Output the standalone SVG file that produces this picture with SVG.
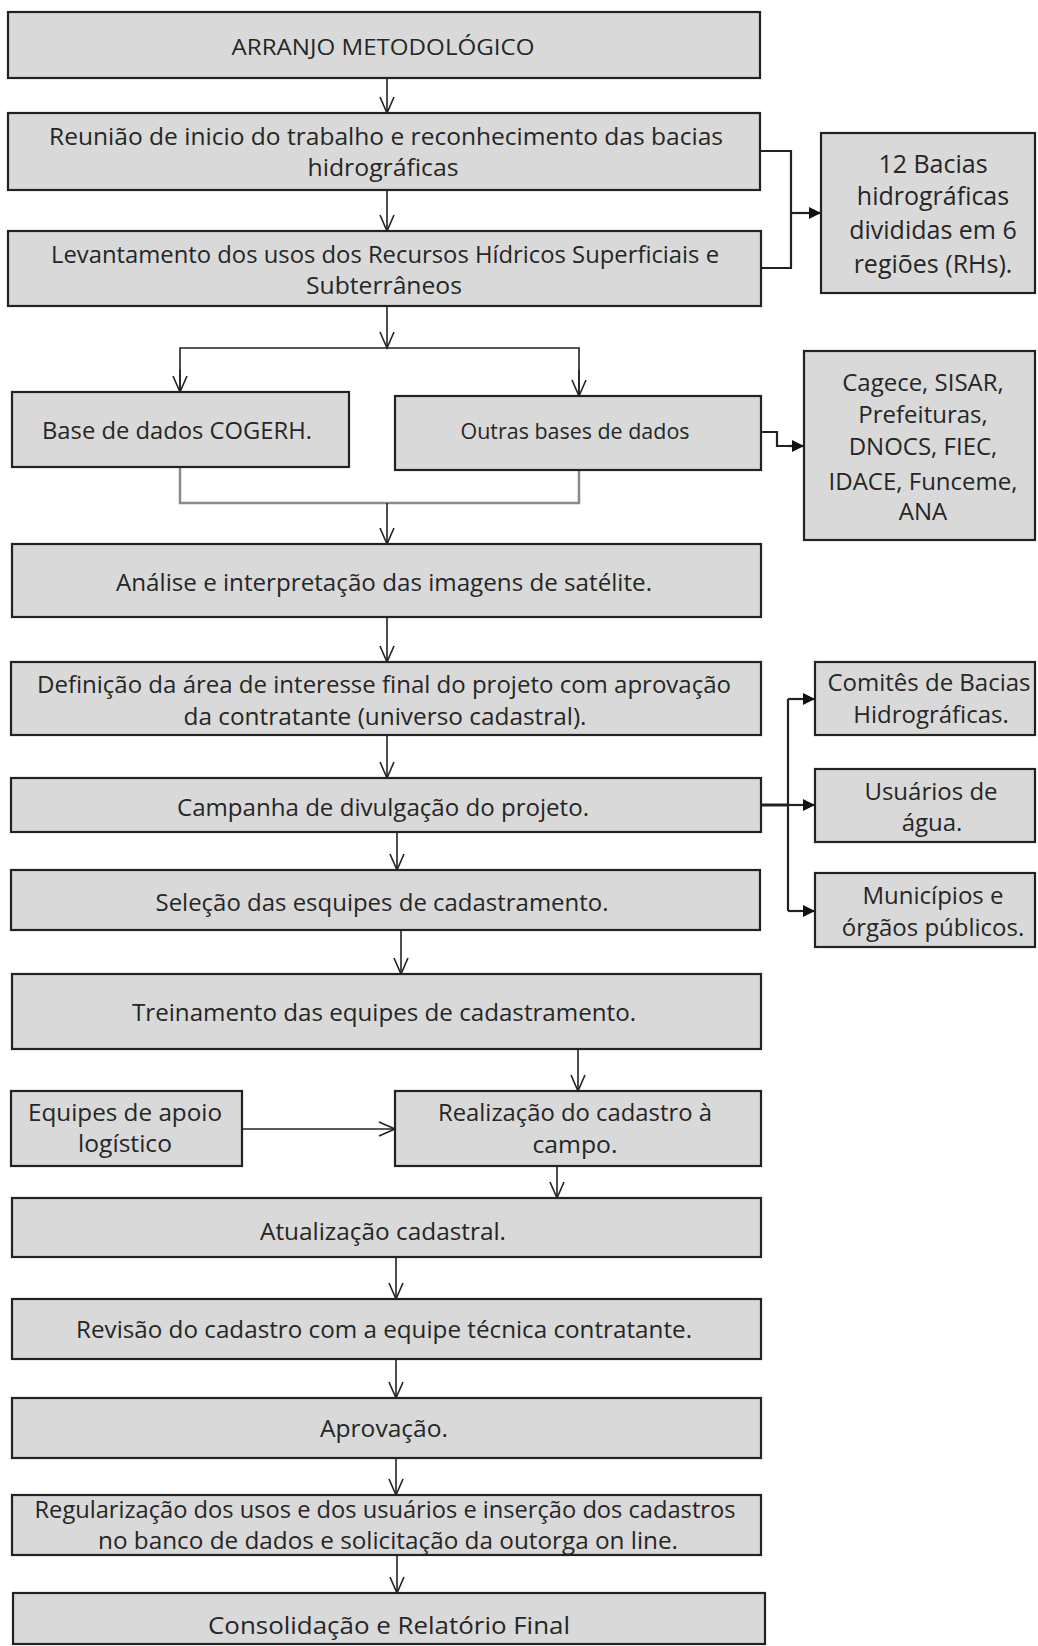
<svg xmlns="http://www.w3.org/2000/svg" width="1038" height="1646" viewBox="0 0 1038 1646">
<defs>
<marker id="open" markerUnits="userSpaceOnUse" viewBox="-18 -10 20 20" refX="0" refY="0" markerWidth="20" markerHeight="20" orient="auto">
<path d="M-16,-7 L0,0 L-16,7" fill="none" stroke="#222" stroke-width="1.6"/>
</marker>
<marker id="solid" markerUnits="userSpaceOnUse" viewBox="-14 -8 16 16" refX="0" refY="0" markerWidth="16" markerHeight="16" orient="auto">
<path d="M-12,-6 L0,0 L-12,6 Z" fill="#111"/>
</marker>
</defs>
<style>
.box{fill:#d9d9d9;stroke:#222;stroke-width:2.2}
.t{font-family:"Open Sans","Liberation Sans",sans-serif;font-size:24px;fill:#262626;text-anchor:middle}
.r{font-size:25px}
.c{fill:none;stroke:#222;stroke-width:1.6}
.k{fill:none;stroke:#222;stroke-width:2.2}
.g{fill:none;stroke:#8a8a8a;stroke-width:2.5}
</style>
<rect width="1038" height="1646" fill="#ffffff"/>

<g id="connectors">
<line class="c" x1="387" y1="78" x2="387" y2="113" marker-end="url(#open)"/>
<line class="c" x1="387" y1="190" x2="387" y2="231" marker-end="url(#open)"/>
<polyline class="k" points="760,151 791,151 791,268 762,268"/>
<line class="k" x1="791" y1="213" x2="821" y2="213" marker-end="url(#solid)"/>
<line class="c" x1="387" y1="306" x2="387" y2="348" marker-end="url(#open)"/>
<polyline class="c" points="180,392 180,348 579,348 579,396"/>
<line class="c" x1="180" y1="370" x2="180" y2="392" marker-end="url(#open)"/>
<line class="c" x1="579" y1="370" x2="579" y2="396" marker-end="url(#open)"/>
<polyline class="g" points="180,467 180,503 579,503 579,470"/>
<line class="c" x1="387" y1="503" x2="387" y2="544" marker-end="url(#open)"/>
<polyline class="k" points="761,432 777,432 777,446 790,446"/>
<line class="k" x1="788" y1="446" x2="804" y2="446" marker-end="url(#solid)"/>
<line class="c" x1="387" y1="617" x2="387" y2="662" marker-end="url(#open)"/>
<line class="c" x1="387" y1="735" x2="387" y2="778" marker-end="url(#open)"/>
<line class="c" x1="397" y1="832" x2="397" y2="870" marker-end="url(#open)"/>
<line class="k" x1="761" y1="805" x2="788" y2="805" style="stroke-width:3"/>
<line class="k" x1="788" y1="699" x2="788" y2="911"/>
<line class="k" x1="788" y1="699" x2="815" y2="699" marker-end="url(#solid)"/>
<line class="k" x1="788" y1="805" x2="815" y2="805" marker-end="url(#solid)"/>
<line class="k" x1="788" y1="911" x2="815" y2="911" marker-end="url(#solid)"/>
<line class="c" x1="401" y1="930" x2="401" y2="974" marker-end="url(#open)"/>
<line class="c" x1="578" y1="1049" x2="578" y2="1091" marker-end="url(#open)"/>
<line class="c" x1="242" y1="1129" x2="395" y2="1129" marker-end="url(#open)"/>
<line class="c" x1="557" y1="1166" x2="557" y2="1198" marker-end="url(#open)"/>
<line class="c" x1="396" y1="1257" x2="396" y2="1299" marker-end="url(#open)"/>
<line class="c" x1="396" y1="1359" x2="396" y2="1398" marker-end="url(#open)"/>
<line class="c" x1="396" y1="1458" x2="396" y2="1495" marker-end="url(#open)"/>
<line class="c" x1="397" y1="1555" x2="397" y2="1593" marker-end="url(#open)"/>
</g>

<g id="n1"><rect class="box" x="8" y="12" width="752" height="66"/>
<text class="t" x="383" y="55" style="font-size:22px" textLength="303" lengthAdjust="spacingAndGlyphs">ARRANJO METODOLÓGICO</text></g>

<g id="n2"><rect class="box" x="8" y="113" width="752" height="77"/>
<text class="t" x="386" y="145" textLength="674" lengthAdjust="spacingAndGlyphs">Reunião de inicio do trabalho e reconhecimento das bacias</text>
<text class="t" x="383" y="176" textLength="151" lengthAdjust="spacingAndGlyphs">hidrográficas</text></g>

<g id="n3"><rect class="box" x="8" y="231" width="753" height="75"/>
<text class="t" x="385" y="263" textLength="668" lengthAdjust="spacingAndGlyphs">Levantamento dos usos dos Recursos Hídricos Superficiais e</text>
<text class="t" x="384" y="294" textLength="156" lengthAdjust="spacingAndGlyphs">Subterrâneos</text></g>

<g id="n4"><rect class="box" x="12" y="392" width="337" height="75"/>
<text class="t" x="177" y="439" textLength="270" lengthAdjust="spacingAndGlyphs">Base de dados COGERH.</text></g>

<g id="n5"><rect class="box" x="395" y="396" width="366" height="74"/>
<text class="t" x="575" y="439" style="font-size:21px" textLength="229" lengthAdjust="spacingAndGlyphs">Outras bases de dados</text></g>

<g id="n6"><rect class="box" x="12" y="544" width="749" height="73"/>
<text class="t" x="384" y="591" textLength="536" lengthAdjust="spacingAndGlyphs">Análise e interpretação das imagens de satélite.</text></g>

<g id="n7"><rect class="box" x="11" y="662" width="750" height="73"/>
<text class="t" x="384" y="693" textLength="694" lengthAdjust="spacingAndGlyphs">Definição da área de interesse final do projeto com aprovação</text>
<text class="t" x="385" y="725" textLength="403" lengthAdjust="spacingAndGlyphs">da contratante (universo cadastral).</text></g>

<g id="n8"><rect class="box" x="11" y="778" width="750" height="54"/>
<text class="t" x="383" y="816" textLength="412" lengthAdjust="spacingAndGlyphs">Campanha de divulgação do projeto.</text></g>

<g id="n9"><rect class="box" x="11" y="870" width="749" height="60"/>
<text class="t" x="382" y="911" textLength="453" lengthAdjust="spacingAndGlyphs">Seleção das esquipes de cadastramento.</text></g>

<g id="n10"><rect class="box" x="12" y="974" width="749" height="75"/>
<text class="t" x="384" y="1021" textLength="504" lengthAdjust="spacingAndGlyphs">Treinamento das equipes de cadastramento.</text></g>

<g id="n11"><rect class="box" x="11" y="1091" width="231" height="75"/>
<text class="t" x="125" y="1121" textLength="194" lengthAdjust="spacingAndGlyphs">Equipes de apoio</text>
<text class="t" x="125" y="1152" textLength="94" lengthAdjust="spacingAndGlyphs">logístico</text></g>

<g id="n12"><rect class="box" x="395" y="1091" width="366" height="75"/>
<text class="t" x="575" y="1121" textLength="274" lengthAdjust="spacingAndGlyphs">Realização do cadastro à</text>
<text class="t" x="575" y="1153" textLength="85" lengthAdjust="spacingAndGlyphs">campo.</text></g>

<g id="n13"><rect class="box" x="12" y="1198" width="749" height="59"/>
<text class="t" x="383" y="1240" textLength="246" lengthAdjust="spacingAndGlyphs">Atualização cadastral.</text></g>

<g id="n14"><rect class="box" x="12" y="1299" width="749" height="60"/>
<text class="t" x="384" y="1338" textLength="616" lengthAdjust="spacingAndGlyphs">Revisão do cadastro com a equipe técnica contratante.</text></g>

<g id="n15"><rect class="box" x="12" y="1398" width="749" height="60"/>
<text class="t" x="384" y="1437" textLength="128" lengthAdjust="spacingAndGlyphs">Aprovação.</text></g>

<g id="n16"><rect class="box" x="12" y="1495" width="749" height="60"/>
<text class="t" x="385" y="1518" textLength="701" lengthAdjust="spacingAndGlyphs">Regularização dos usos e dos usuários e inserção dos cadastros</text>
<text class="t" x="388" y="1549" textLength="580" lengthAdjust="spacingAndGlyphs">no banco de dados e solicitação da outorga on line.</text></g>

<g id="n17"><rect class="box" x="13" y="1593" width="752" height="51"/>
<text class="t" x="389" y="1634" textLength="362" lengthAdjust="spacingAndGlyphs">Consolidação e Relatório Final</text></g>

<g id="r1"><rect class="box" x="821" y="133" width="214" height="160"/>
<text class="t r" x="933" y="173">12 Bacias</text>
<text class="t r" x="933" y="205">hidrográficas</text>
<text class="t r" x="933" y="239">divididas em 6</text>
<text class="t r" x="933" y="273">regiões (RHs).</text></g>

<g id="r2"><rect class="box" x="804" y="351" width="231" height="189"/>
<text class="t" x="923" y="391">Cagece, SISAR,</text>
<text class="t" x="923" y="423">Prefeituras,</text>
<text class="t" x="923" y="455">DNOCS, FIEC,</text>
<text class="t" x="923" y="490">IDACE, Funceme,</text>
<text class="t" x="923" y="520">ANA</text></g>

<g id="r3"><rect class="box" x="815" y="662" width="220" height="73"/>
<text class="t" x="929" y="691">Comitês de  Bacias</text>
<text class="t" x="931" y="723">Hidrográficas.</text></g>

<g id="r4"><rect class="box" x="815" y="769" width="220" height="73"/>
<text class="t" x="931" y="800">Usuários de</text>
<text class="t" x="932" y="831">água.</text></g>

<g id="r5"><rect class="box" x="815" y="873" width="220" height="74"/>
<text class="t" x="933" y="904">Municípios e</text>
<text class="t" x="933" y="936">órgãos públicos.</text></g>
</svg>
